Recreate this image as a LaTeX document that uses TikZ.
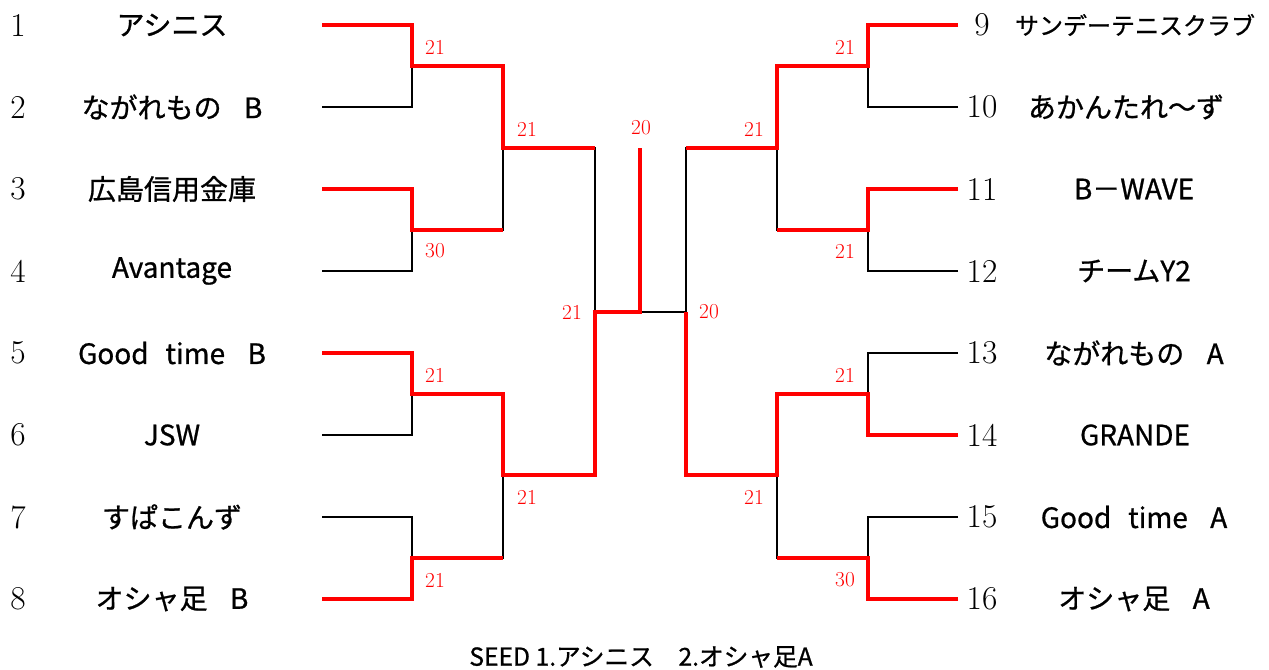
\documentclass[tikz,border=0pt]{standalone}
\usepackage{fontspec}
\newfontfamily\jpfont{Noto Sans CJK JP}[FakeBold=0.8]
\usetikzlibrary{positioning}

\begin{document}
\begin{tikzpicture}[x=0.75pt, y=-0.75pt,
  team/.style={font=\jpfont\fontsize{21}{25}\selectfont, inner sep=0pt},
  num/.style={font=\fontsize{25}{28}\selectfont, inner sep=0pt},
  score/.style={font=\fontsize{16}{18}\selectfont, text=red, inner sep=0pt},
  lose/.style={draw=black, line width=2pt},
  win/.style={draw=red, line width=3.2pt}]
\useasboundingbox (0,0) rectangle (1269,670);
% entry numbers
\node[num] (n1) at (18,25) {1}; \node[num] (n2) at (18,107) {2}; \node[num] (n3) at (18,189) {3}; \node[num] (n4) at (18,271) {4};
\node[num] (n5) at (18,353) {5}; \node[num] (n6) at (18,435) {6}; \node[num] (n7) at (18,517) {7}; \node[num] (n8) at (18,599) {8};
\node[num] (n9) at (982,25) {9}; \node[num] (n10) at (982,107) {10}; \node[num] (n11) at (982,189) {11}; \node[num] (n12) at (982,271) {12};
\node[num] (n13) at (982,353) {13}; \node[num] (n14) at (982,435) {14}; \node[num] (n15) at (982,517) {15}; \node[num] (n16) at (982,599) {16};
% teams
\node[team] (t1) at (172,25) {アシニス};
\node[team] (t2) at (172,107) {ながれもの\hspace{0.8em}B};
\node[team] (t3) at (172,189) {広島信用金庫};
\node[team] (t4) at (172,271) {Avantage};
\node[team] (t5) at (172,353) {Good\hspace{0.6em}time\hspace{0.8em}B};
\node[team] (t6) at (172,435) {JSW};
\node[team] (t7) at (172,517) {すぱこんず};
\node[team] (t8) at (172,599) {オシャ足\hspace{0.8em}B};
\node[team, font=\jpfont\fontsize{18}{22}\selectfont] (t9) at (1135,25) {サンデーテニスクラブ};
\node[team] (t10) at (1126,107) {あかんたれ～ず};
\node[team] (t11) at (1134,189) {B－WAVE};
\node[team] (t12) at (1134,271) {チームY2};
\node[team] (t13) at (1134,353) {ながれもの\hspace{0.8em}A};
\node[team] (t14) at (1135,435) {GRANDE};
\node[team] (t15) at (1134,517) {Good\hspace{0.6em}time\hspace{0.8em}A};
\node[team] (t16) at (1134,599) {オシャ足\hspace{0.8em}A};
% line ends and junctions
\coordinate (a1) at (322,25); \coordinate (a2) at (322,107); \coordinate (a3) at (322,189); \coordinate (a4) at (322,271);
\coordinate (a5) at (322,353); \coordinate (a6) at (322,435); \coordinate (a7) at (322,517); \coordinate (a8) at (322,599);
\coordinate (b1) at (958,25); \coordinate (b2) at (958,107); \coordinate (b3) at (958,189); \coordinate (b4) at (958,271);
\coordinate (b5) at (958,353); \coordinate (b6) at (958,435); \coordinate (b7) at (958,517); \coordinate (b8) at (958,599);
\coordinate (la1) at (412,66); \coordinate (la2) at (412,230); \coordinate (la3) at (412,394); \coordinate (la4) at (412,558);
\coordinate (lb1) at (503,148); \coordinate (lb2) at (503,475); \coordinate (lc) at (595,312);
\coordinate (ra1) at (868,66); \coordinate (ra2) at (868,230); \coordinate (ra3) at (868,394); \coordinate (ra4) at (868,558);
\coordinate (rb1) at (777,148); \coordinate (rb2) at (777,475); \coordinate (rc) at (686,312);
\coordinate (fin) at (640,312); \coordinate (top) at (640,148);
% bracket
\draw[lose] (a1) -| (la1); \draw[lose] (a2) -| (la1); \draw[lose] (a3) -| (la2); \draw[lose] (a4) -| (la2);
\draw[lose] (a5) -| (la3); \draw[lose] (a6) -| (la3); \draw[lose] (a7) -| (la4); \draw[lose] (a8) -| (la4);
\draw[lose] (la1) -| (lb1); \draw[lose] (la2) -| (lb1); \draw[lose] (la3) -| (lb2); \draw[lose] (la4) -| (lb2);
\draw[lose] (lb1) -| (lc); \draw[lose] (lb2) -| (lc); \draw[lose] (lc) -- (rc);
\draw[lose] (b1) -| (ra1); \draw[lose] (b2) -| (ra1); \draw[lose] (b3) -| (ra2); \draw[lose] (b4) -| (ra2);
\draw[lose] (b5) -| (ra3); \draw[lose] (b6) -| (ra3); \draw[lose] (b7) -| (ra4); \draw[lose] (b8) -| (ra4);
\draw[lose] (ra1) -| (rb1); \draw[lose] (ra2) -| (rb1); \draw[lose] (ra3) -| (rb2); \draw[lose] (ra4) -| (rb2);
\draw[lose] (rb1) -| (rc); \draw[lose] (rb2) -| (rc);
% winners
\draw[win] (a1) -| (la1) -| (lb1) -- (lb1 -| lc);
\draw[win] (a3) -| (la2) -- (la2 -| lb1);
\draw[win] (a5) -| (la3) -| (lb2) -| (lc) -- (fin) -- (top);
\draw[win] (a8) -| (la4) -- (la4 -| lb2);
\draw[win] (b1) -| (ra1) -| (rb1) -- (rb1 -| rc);
\draw[win] (b3) -| (ra2) -- (ra2 -| rb1);
\draw[win] (b6) -| (ra3) -| (rb2) -| (rc);
\draw[win] (b8) -| (ra4) -- (ra4 -| rb2);
% scores
\node[score] (s1) at (435,47) {21}; \node[score] (s2) at (435,251) {30}; \node[score] (s3) at (435,375) {21}; \node[score] (s4) at (435,580) {21};
\node[score] (s5) at (527,129) {21}; \node[score] (s6) at (527,497) {21}; \node[score] (s7) at (572,312) {21};
\node[score] (s8) at (641,128) {20}; \node[score] (s9) at (709,312) {20};
\node[score] (s10) at (754,129) {21}; \node[score] (s11) at (754,497) {21};
\node[score] (s12) at (845,47) {21}; \node[score] (s13) at (845,251) {21}; \node[score] (s14) at (845,375) {21}; \node[score] (s15) at (845,580) {30};
\node[team, font=\jpfont\fontsize{18.5}{22}\selectfont] (seed) at (641,657) {SEED 1.アシニス　2.オシャ足A};
\end{tikzpicture}
\end{document}
